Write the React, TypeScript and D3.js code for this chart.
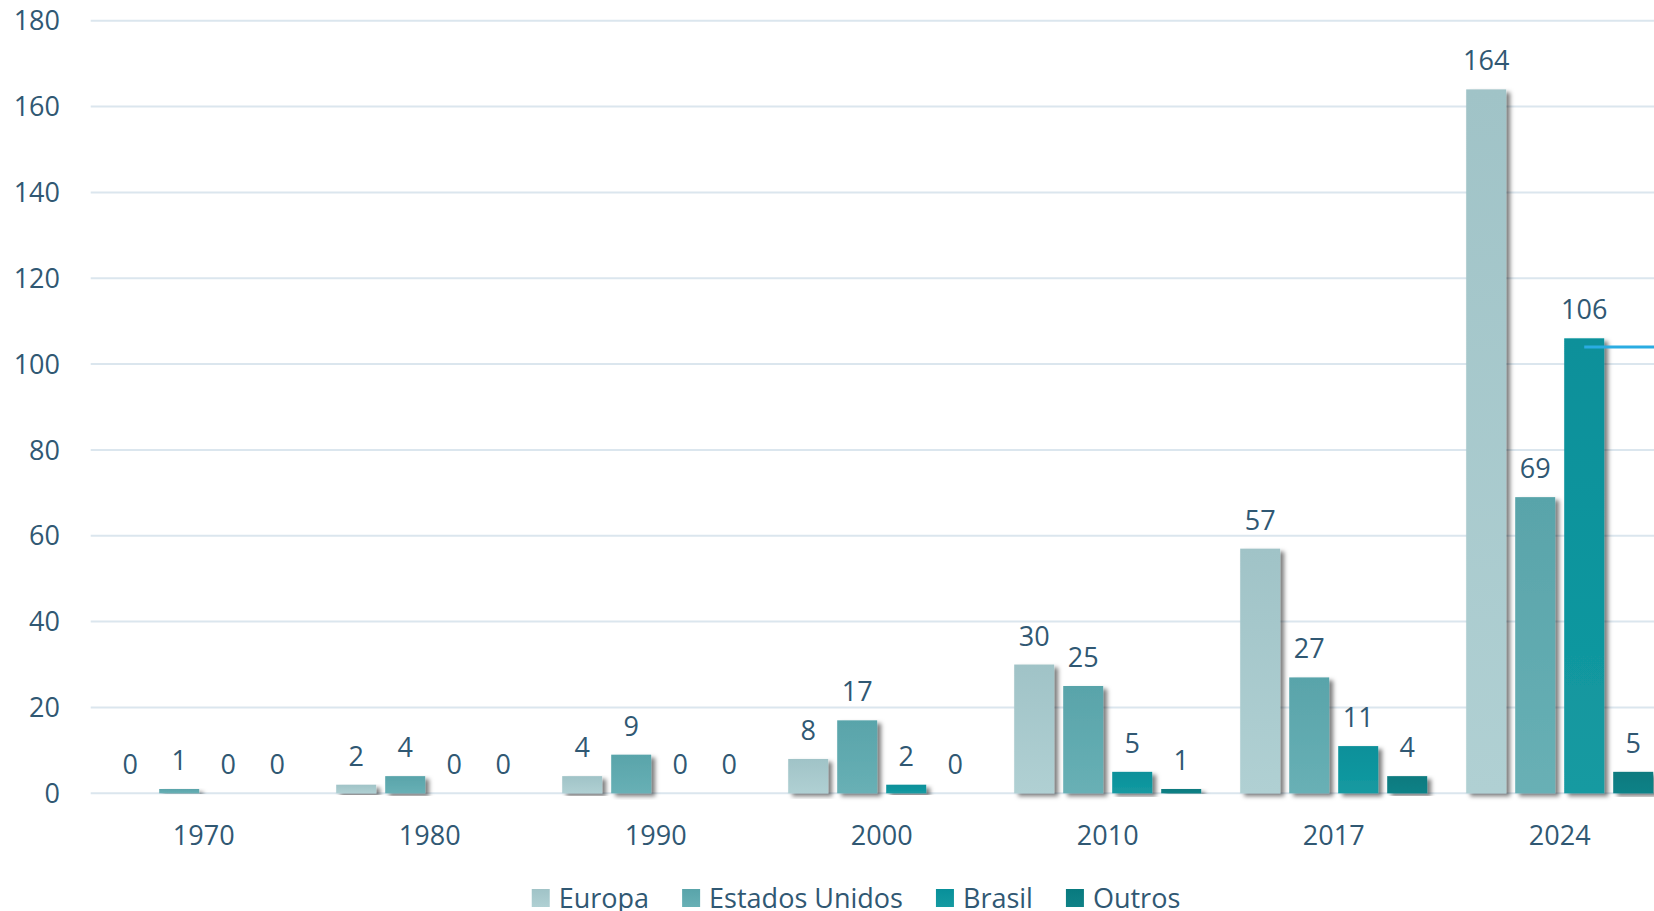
import { useEffect, useRef } from "react"
import * as d3 from "d3"

const years = ["1970", "1980", "1990", "2000", "2010", "2017", "2024"]
const seriesNames = ["Europa", "Estados Unidos", "Brasil", "Outros"]
const europa = [0, 2, 4, 8, 30, 57, 164]
const estadosUnidos = [1, 4, 9, 17, 25, 27, 69]
const brasil = [0, 0, 0, 2, 5, 11, 106]
const outros = [0, 0, 0, 0, 1, 4, 5]
const yTicks = [0, 20, 40, 60, 80, 100, 120, 140, 160, 180]
// the stray blue marker line on the 2024 Brasil bar
const markerValue = 104

const colors: Record<string, [string, string]> = {
  Europa: ["#a0c3c7", "#b0d0d3"],
  "Estados Unidos": ["#59a4aa", "#68b0b5"],
  Brasil: ["#08909a", "#159aa1"],
  Outros: ["#087a7f", "#108287"],
}

const textColor = "#305873"
const font = "'Open Sans', sans-serif"

interface Cell {
  year: string
  series: string
  value: number
}

const App = () => {
  const svgRef = useRef<SVGSVGElement | null>(null)

  useEffect(() => {
    if (!svgRef.current) return
    const svg = d3.select(svgRef.current)
    svg.selectAll("*").remove()

    const values = [europa, estadosUnidos, brasil, outros]
    const cells: Cell[] = []
    years.forEach((year, i) => {
      seriesNames.forEach((series, s) => cells.push({ year, series, value: values[s][i] }))
    })

    const left = 90.7
    const step = 226
    const x0 = d3.scaleBand<string>().domain(years).range([left, left + step * years.length])
    const x1 = d3
      .scaleBand<string>()
      .domain(seriesNames)
      .range([19.5, step - 19.5])
      .paddingInner(9 / 49)
    const y = d3.scaleLinear().domain([0, 180]).range([793.3, 20.7])

    const defs = svg.append("defs")
    const shadow = defs
      .append("filter")
      .attr("id", "shadow")
      .attr("x", "-20%")
      .attr("y", "-5%")
      .attr("width", "150%")
      .attr("height", "120%")
    shadow
      .append("feDropShadow")
      .attr("dx", 4)
      .attr("dy", 3)
      .attr("stdDeviation", 2.2)
      .attr("flood-color", "#000")
      .attr("flood-opacity", 0.5)

    seriesNames.forEach((name, i) => {
      const grad = defs
        .append("linearGradient")
        .attr("id", `grad${i}`)
        .attr("x1", 0)
        .attr("y1", 0)
        .attr("x2", 0)
        .attr("y2", 1)
      grad.append("stop").attr("offset", "0%").attr("stop-color", colors[name][0])
      grad.append("stop").attr("offset", "100%").attr("stop-color", colors[name][1])
    })

    // grid lines
    svg
      .append("g")
      .selectAll("line")
      .data(yTicks)
      .join("line")
      .attr("x1", left)
      .attr("x2", 1654)
      .attr("y1", (d) => y(d))
      .attr("y2", (d) => y(d))
      .attr("stroke", "#dbe6ee")
      .attr("stroke-width", 2)

    // y tick labels
    svg
      .append("g")
      .selectAll("text")
      .data(yTicks)
      .join("text")
      .attr("x", 60)
      .attr("y", (d) => y(d) + 9.6)
      .attr("text-anchor", "end")
      .attr("font-family", font)
      .attr("font-size", 27)
      .attr("fill", textColor)
      .text((d) => d)

    // bars
    svg
      .append("g")
      .selectAll("rect")
      .data(cells.filter((d) => d.value > 0))
      .join("rect")
      .attr("x", (d) => (x0(d.year) as number) + (x1(d.series) as number))
      .attr("y", (d) => y(d.value))
      .attr("width", x1.bandwidth())
      .attr("height", (d) => y(0) - y(d.value))
      .attr("fill", (d) => `url(#grad${seriesNames.indexOf(d.series)})`)
      .attr("filter", "url(#shadow)")

    // value labels
    svg
      .append("g")
      .selectAll("text")
      .data(cells)
      .join("text")
      .attr("x", (d) => (x0(d.year) as number) + (x1(d.series) as number) + x1.bandwidth() / 2)
      .attr("y", (d) => y(d.value) - 19)
      .attr("text-anchor", "middle")
      .attr("font-family", font)
      .attr("font-size", 27)
      .attr("fill", textColor)
      .text((d) => d.value)

    // marker line on 2024 Brasil
    const mx = (x0("2024") as number) + (x1("Brasil") as number) + x1.bandwidth() / 2
    svg
      .append("line")
      .attr("x1", mx)
      .attr("x2", 1654)
      .attr("y1", y(markerValue))
      .attr("y2", y(markerValue))
      .attr("stroke", "#2aace2")
      .attr("stroke-width", 3)

    // x labels
    svg
      .append("g")
      .selectAll("text")
      .data(years)
      .join("text")
      .attr("x", (d) => (x0(d) as number) + step / 2)
      .attr("y", y(0) + 52)
      .attr("text-anchor", "middle")
      .attr("font-family", font)
      .attr("font-size", 27)
      .attr("fill", textColor)
      .text((d) => d)

    // legend
    const legend = svg.append("g")
    const items = legend
      .selectAll("g")
      .data(seriesNames)
      .join("g")
    items
      .append("rect")
      .attr("width", 18)
      .attr("height", 18)
      .attr("y", 889)
      .attr("fill", (d, i) => `url(#grad${i})`)
    const labels = items
      .append("text")
      .attr("x", 27)
      .attr("y", 908)
      .attr("font-family", font)
      .attr("font-size", 27)
      .attr("fill", textColor)
      .text((d) => d)
    const gap = 33
    let cursor = 0
    labels.each(function (this: SVGTextElement) {
      const w = this.getComputedTextLength()
      const g = d3.select(this.parentNode as SVGGElement)
      g.attr("transform", `translate(${cursor},0)`)
      cursor += 27 + w + gap
    })
    const total = cursor - gap
    legend.attr("transform", `translate(${856 - total / 2},0)`)
  }, [])

  return (
    <div style={{ position: "absolute", left: 0, top: 0, width: 1654, height: 911, overflow: "hidden", background: "#fff" }}>
      <svg ref={svgRef} width={1654} height={911} style={{ display: "block" }} />
    </div>
  )
}

export default App
